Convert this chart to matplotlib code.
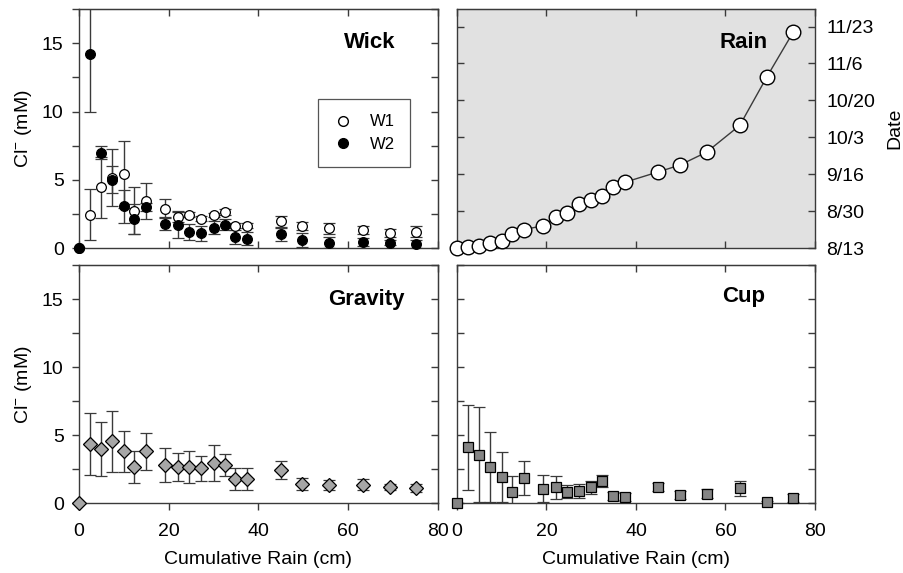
import numpy as np
import matplotlib
matplotlib.use('Agg')
import matplotlib.pyplot as plt
from matplotlib.ticker import MultipleLocator, NullFormatter, FixedLocator
from matplotlib.lines import Line2D

plt.rcParams['font.family'] = ['Liberation Sans', 'DejaVu Sans']
plt.rcParams['mathtext.fontset'] = 'custom'
plt.rcParams['mathtext.rm'] = 'Liberation Sans'
plt.rcParams['mathtext.default'] = 'regular'

# cumulative rain (cm) at each sampling date
rain = [0, 2.4, 4.9, 7.4, 10.1, 12.3, 14.9, 19.2, 22.1, 24.6, 27.2,
        30.0, 32.5, 34.8, 37.5, 45.0, 49.8, 55.8, 63.2, 69.3, 75.1]
# days since 8/13
days = [0, 0.3, 1.1, 2.3, 3.5, 6.5, 8.5, 10.3, 14.1, 16.2, 20.5,
        22.3, 24.2, 28.2, 30.3, 35.1, 38.2, 44.2, 56.5, 79.0, 99.3]
date_ticks = [0, 17, 34, 51, 68, 85, 102]
date_labels = ['8/13', '8/30', '9/16', '10/3', '10/20', '11/6', '11/23']

w1 = [0, 2.45, 4.45, 5.15, 5.4, 2.75, 3.45, 2.9, 2.3, 2.45, 2.15,
      2.45, 2.65, 1.65, 1.65, 1.95, 1.6, 1.45, 1.3, 1.1, 1.2]
w1_err = [0, 1.85, 2.25, 2.1, 2.45, 1.7, 1.35, 0.7, 0.4, 0.2, 0.2,
          0.15, 0.2, 0.2, 0.2, 0.4, 0.3, 0.4, 0.3, 0.3, 0.4]
w2 = [0, 14.2, 7.0, 5.0, 3.05, 2.1, 3.0, 1.8, 1.7, 1.2, 1.1,
      1.5, 1.7, 0.8, 0.7, 1.0, 0.6, 0.4, 0.45, 0.4, 0.3]
w2_err = [0, 4.2, 0.45, 1.0, 1.2, 1.1, 0.3, 0.45, 0.95, 0.6, 0.55,
          0.5, 0.4, 0.5, 0.5, 0.5, 0.5, 0.4, 0.3, 0.2, 0.3]

gravity = [0, 4.35, 4.0, 4.55, 3.8, 2.65, 3.8, 2.8, 2.65, 2.65, 2.55,
           2.95, 2.8, 1.8, 1.8, 2.45, 1.4, 1.32, 1.35, 1.18, 1.1]
gravity_err = [0, 2.3, 2.0, 2.25, 1.5, 1.2, 1.35, 1.25, 1.05, 1.15, 0.9,
               1.3, 0.8, 0.8, 0.8, 0.65, 0.45, 0.35, 0.4, 0.25, 0.3]

cup = [0, 4.1, 3.55, 2.65, 1.9, 0.8, 1.85, 1.05, 1.15, 0.85, 0.9,
       1.15, 1.65, 0.5, 0.45, 1.2, 0.6, 0.7, 1.1, 0.05, 0.35]
cup_err = [0, 3.15, 3.5, 2.6, 1.85, 1.2, 1.25, 1.0, 0.85, 0.5, 0.5,
           0.5, 0.45, 0.3, 0.3, 0.3, 0.3, 0.35, 0.55, 0.1, 0.3]

edge = '#3a3a3a'
fs = 14

fig = plt.figure(figsize=(9.04, 5.73), dpi=100)
ax_w = fig.add_axes([0.0874, 0.567, 0.397, 0.417])
ax_r = fig.add_axes([0.5055, 0.567, 0.396, 0.417])
ax_g = fig.add_axes([0.0874, 0.122, 0.397, 0.415])
ax_c = fig.add_axes([0.5055, 0.122, 0.396, 0.415])


def frame(ax, left_out, bottom_out, xlabels, ylabels):
    for s in ax.spines.values():
        s.set_color(edge)
        s.set_linewidth(1.0)
    ax.set_xlim(0, 80)
    ax.xaxis.set_major_locator(MultipleLocator(20))
    ax.tick_params(axis='x', direction='out' if bottom_out else 'in',
                   length=5, width=1, color=edge, pad=9,
                   labelsize=fs, labelbottom=xlabels)
    top = ax.secondary_xaxis('top')
    top.xaxis.set_major_locator(MultipleLocator(20))
    top.xaxis.set_major_formatter(NullFormatter())
    top.tick_params(direction='in', length=5, width=1, color=edge)
    top.spines['top'].set_color(edge)
    return top


def cl_axes(ax, left_out, xlabels, ylabels):
    frame(ax, left_out, xlabels, xlabels, ylabels)
    ax.set_ylim(0, 17.5)
    ax.yaxis.set_major_locator(MultipleLocator(5))
    ax.yaxis.set_minor_locator(MultipleLocator(2.5))
    ax.tick_params(axis='y', which='both', direction='out' if left_out else 'in',
                   length=5, width=1, color=edge, pad=6,
                   labelsize=fs, labelleft=ylabels)
    right = ax.secondary_yaxis('right')
    right.yaxis.set_major_locator(MultipleLocator(5))
    right.yaxis.set_minor_locator(MultipleLocator(2.5))
    right.yaxis.set_major_formatter(NullFormatter())
    right.tick_params(which='both', direction='in', length=5, width=1, color=edge)
    right.spines['right'].set_color(edge)
    if ylabels:
        ax.set_ylabel(r'Cl$^{-}$ (mM)', fontsize=fs, labelpad=6)
    if xlabels:
        ax.set_xlabel('Cumulative Rain (cm)', fontsize=fs, labelpad=8)


def bars(ax, y, err, marker, ms, fc):
    line, caps, cols = ax.errorbar(rain, y, yerr=err, fmt=marker, ms=ms,
                                   mfc=fc, mec='black', mew=0.9,
                                   ecolor=edge, elinewidth=1.0,
                                   capsize=4.5, capthick=1.0)
    line.set_clip_on(False)
    line.set_zorder(4)


# Wick
cl_axes(ax_w, True, False, True)
bars(ax_w, w1, w1_err, 'o', 7, 'white')
bars(ax_w, w2, w2_err, 'o', 7, 'black')
ax_w.text(0.81, 0.86, 'Wick', transform=ax_w.transAxes, ha='center',
          va='center', fontsize=16, fontweight='bold')
handles = [Line2D([], [], ls='none', marker='o', ms=7, mfc='white', mec='black'),
           Line2D([], [], ls='none', marker='o', ms=7, mfc='black', mec='black')]
leg = ax_w.legend(handles, ['W1', 'W2'], loc='center',
                  bbox_to_anchor=(0.795, 0.481), fontsize=12, frameon=True,
                  fancybox=False, edgecolor='#555555', framealpha=1,
                  handlelength=1.2, handletextpad=1.0, borderpad=0.9,
                  labelspacing=0.45, borderaxespad=0)
leg.get_frame().set_linewidth(0.9)

# Gravity
cl_axes(ax_g, True, True, True)
bars(ax_g, gravity, gravity_err, 'D', 7, '#a6a6a6')
ax_g.text(0.80, 0.857, 'Gravity', transform=ax_g.transAxes, ha='center',
          va='center', fontsize=16, fontweight='bold')

# Cup
cl_axes(ax_c, False, True, False)
bars(ax_c, cup, cup_err, 's', 6.5, '#858585')
ax_c.text(0.80, 0.867, 'Cup', transform=ax_c.transAxes, ha='center',
          va='center', fontsize=16, fontweight='bold')

# Rain
frame(ax_r, False, False, False, False)
ax_r.set_facecolor('#e1e1e1')
ax_r.set_ylim(0, 110)
ax_r.plot(rain, days, '-o', color=edge, lw=1.0, ms=10.5, mfc='white',
          mec='black', mew=1.0, clip_on=False, zorder=4)
ax_r.yaxis.set_major_locator(FixedLocator(date_ticks))
ax_r.set_yticklabels(date_labels)
ax_r.yaxis.tick_right()
ax_r.tick_params(axis='y', which='both', left=True, right=True,
                 labelleft=False, labelright=True, direction='in',
                 length=5, width=1, color=edge, pad=8, labelsize=fs)
ax_r.yaxis.set_label_position('right')
ax_r.set_ylabel('Date', fontsize=fs, labelpad=8)
ax_r.text(0.80, 0.86, 'Rain', transform=ax_r.transAxes, ha='center',
          va='center', fontsize=16, fontweight='bold')

fig.savefig('out.png', dpi=100)
